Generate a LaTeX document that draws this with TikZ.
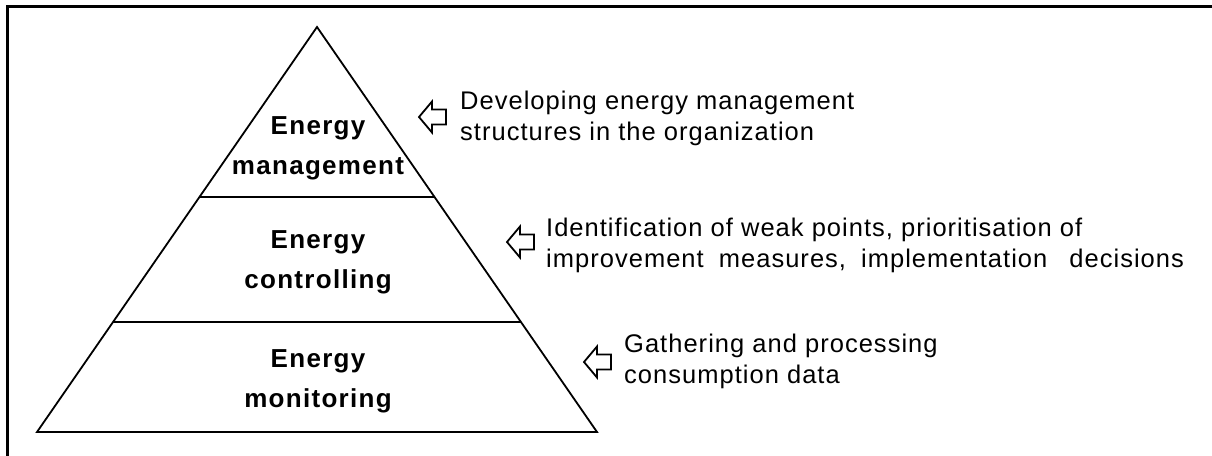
\documentclass[tikz,border=0pt]{standalone}
\usepackage{fontspec}
\setmainfont{Liberation Sans}
\newfontfamily\notefont[LetterSpace=4]{Liberation Sans}
\newfontfamily\tierfont[LetterSpace=5]{Liberation Sans}
\usetikzlibrary{calc}
\begin{document}
\begin{tikzpicture}[x=1pt, y=-1pt,
  frameline/.style={line width=2.2pt},
  pyrline/.style={line width=1.8pt, line join=miter},
  levellabel/.style={anchor=north, inner sep=0pt, align=center,
    font=\tierfont\fontsize{26}{40}\selectfont\bfseries},
  notetext/.style={anchor=north west, inner sep=0pt, align=left,
    font=\notefont\fontsize{25.5}{31}\selectfont},
  larrow/.pic={
    \draw[line width=1.8pt, line join=miter]
      (0,0) -- (13,-15.5) -- (13,-7.5) -- (27,-7.5) -- (27,7.5)
      -- (13,7.5) -- (13,15.5) -- cycle;
  }]
  \useasboundingbox (0,0) rectangle (1212,455);

  % open frame along the left and top edges
  \draw[frameline] (7.5,456) -- (7.5,6.5) -- (1213,6.5);

  % pyramid outline
  \coordinate (apex) at (317,27);
  \coordinate (bl) at (37,432);
  \coordinate (br) at (597,432);
  \draw[pyrline] (apex) -- (br) -- (bl) -- cycle;

  % tier boundaries
  \coordinate (t1l) at ($(apex)!0.4198!(bl)$);
  \coordinate (t1r) at ($(apex)!0.4198!(br)$);
  \coordinate (t2l) at ($(apex)!0.7284!(bl)$);
  \coordinate (t2r) at ($(apex)!0.7284!(br)$);
  \draw[pyrline] (t1l) -- (t1r);
  \draw[pyrline] (t2l) -- (t2r);

  % tier labels
  \node[levellabel] (mgmt) at (318,116) {Energy\\management};
  \node[levellabel] (ctrl) at (318,230) {Energy\\controlling};
  \node[levellabel] (mon)  at (318,349) {Energy\\monitoring};

  % pointers
  \pic at (419,117) {larrow};
  \pic at (507,242) {larrow};
  \pic at (584,362) {larrow};

  % descriptions
  \node[notetext] (dmgmt) at (460,91)
    {Developing energy management\\structures in the organization};
  \node[notetext] (dctrl) at (546,218)
    {Identification of weak points, prioritisation of\\improvement\hspace{7pt} measures,\hspace{7pt} implementation\hspace{14pt} decisions};
  \node[notetext] (dmon) at (624,333.5)
    {Gathering and processing\\consumption data};
\end{tikzpicture}
\end{document}
